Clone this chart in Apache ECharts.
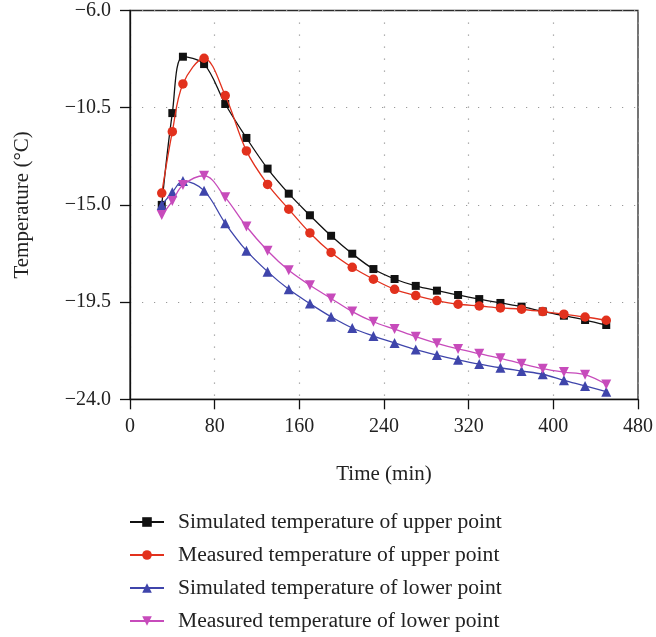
<!DOCTYPE html>
<html><head><meta charset="utf-8">
<script src="https://cdn.jsdelivr.net/npm/echarts@6/dist/echarts.min.js"></script>
<style>html,body{margin:0;padding:0;background:#fff}#c{width:656px;height:637px}</style>
</head><body><div id="c"></div>
<script>
const time = [30,40,50,70,90,110,130,150,170,190,210,230,250,270,290,310,330,350,370,390,410,430,450];
const simUpper  = [-15.0,-10.75,-8.14,-8.48,-10.33,-11.90,-13.32,-14.48,-15.48,-16.43,-17.26,-17.97,-18.43,-18.75,-18.97,-19.17,-19.36,-19.54,-19.71,-19.93,-20.13,-20.33,-20.56];
const measUpper = [-14.45,-11.61,-9.40,-8.21,-9.94,-12.50,-14.05,-15.20,-16.30,-17.20,-17.89,-18.44,-18.91,-19.20,-19.43,-19.60,-19.68,-19.77,-19.83,-19.94,-20.06,-20.19,-20.34];
const simLower  = [-15.0,-14.42,-13.89,-14.34,-15.85,-17.12,-18.09,-18.91,-19.57,-20.18,-20.70,-21.07,-21.39,-21.70,-21.95,-22.17,-22.37,-22.54,-22.69,-22.84,-23.12,-23.38,-23.65];
const measLower = [-15.47,-14.82,-14.08,-13.65,-14.65,-16.00,-17.12,-18.03,-18.72,-19.33,-19.94,-20.41,-20.75,-21.10,-21.41,-21.67,-21.89,-22.10,-22.35,-22.58,-22.74,-22.86,-23.31];
const seriesNames = ['Simulated temperature of upper point','Measured temperature of upper point','Simulated temperature of lower point','Measured temperature of lower point'];
const xMin = 0, xMax = 480, xStep = 80;
const yMin = -24.0, yMax = -6.0, yStep = 4.5;

const FONT = '"Liberation Serif", "DejaVu Serif", serif';
const colors = ['#111111', '#e2311d', '#3f45ab', '#c74bbb'];
const symbols = ['rect', 'circle', 'triangle', 'triangle'];
const symSizes = [8, 9.5, 10, 10];
const symRot = [0, 0, 0, 180];
const allData = [simUpper, measUpper, simLower, measLower];

const chart = echarts.init(document.getElementById('c'), null, {renderer: 'canvas'});
const option = {
  backgroundColor: '#fff',
  animation: false,
  grid: {left: 130, right: 14.5, top: 10.5, bottom: 237.7, show: true, borderColor: '#2a2a2a', borderWidth: 1.3, backgroundColor: 'transparent'},
  xAxis: {
    type: 'value', min: xMin, max: xMax, interval: xStep,
    name: 'Time (min)', nameLocation: 'middle', nameGap: 65,
    nameTextStyle: {fontFamily: FONT, fontSize: 21, color: '#222'},
    axisLine: {show: true, onZero: false, lineStyle: {color: '#111', width: 1.3}},
    axisTick: {show: true, length: 10, lineStyle: {color: '#111', width: 1.3}},
    axisLabel: {fontFamily: FONT, fontSize: 20, color: '#222', margin: 17},
    splitLine: {show: true, lineStyle: {color: '#999', width: 1.2, type: [1.2, 10.8]}}
  },
  yAxis: {
    type: 'value', min: 0, max: yMax - yMin, interval: yStep,
    name: 'Temperature (°C)', nameLocation: 'middle', nameGap: 97, nameRotate: 90,
    nameTextStyle: {fontFamily: FONT, fontSize: 21, color: '#222'},
    axisLine: {show: true, onZero: false, lineStyle: {color: '#111', width: 1.3}},
    axisTick: {show: true, length: 10, lineStyle: {color: '#111', width: 1.3}},
    axisLabel: {fontFamily: FONT, fontSize: 20, color: '#222', margin: 19,
      formatter: v => (v + yMin).toFixed(1).replace('-', '\u2212')},
    splitLine: {show: true, lineStyle: {color: '#999', width: 1.2, type: [1.2, 10.8]}}
  },
  legend: {
    orient: 'vertical', left: 129, top: 511, padding: 0,
    itemWidth: 34, itemHeight: 12, itemGap: 11,
    textStyle: {fontFamily: FONT, fontSize: 21.6, color: '#222', lineHeight: 22, padding: [0, 0, 0, 9]},
    data: seriesNames
  },
  series: allData.map((d, i) => ({
    name: seriesNames[i], type: 'line', smooth: 0.35,
    data: d.map((v, j) => [time[j], v - yMin]),
    symbol: symbols[i], symbolSize: symSizes[i], symbolRotate: symRot[i],
    lineStyle: {color: colors[i], width: 1.3},
    itemStyle: {color: colors[i]},
    z: 10 + i
  }))
};
chart.setOption(option);
</script></body></html>
